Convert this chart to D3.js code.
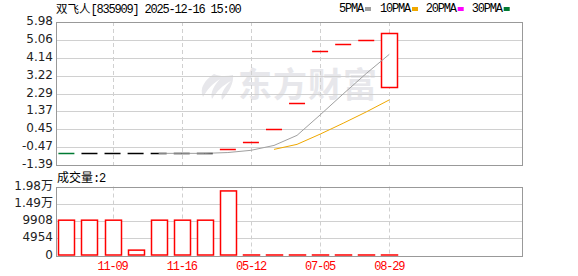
<!DOCTYPE html>
<html><head><meta charset="utf-8">
<script src="https://cdn.jsdelivr.net/npm/d3@7/dist/d3.min.js"></script>
<style>body{margin:0;background:#fff}svg{display:block}</style>
</head><body>
<script>
const dates = ["11-05","11-06","11-09","11-10","11-11","11-16","11-17","05-11","05-12","05-13","06-20","07-05","07-20","08-10","08-29"];
const opens  = [-0.79,-0.79,-0.79,-0.79,-0.79,-0.79,-0.79,-0.58,-0.22,0.47,1.81,4.47,4.83,5.04,2.62];
const closes = [-0.79,-0.79,-0.79,-0.79,-0.79,-0.79,-0.79,-0.58,-0.22,0.47,1.81,4.47,4.83,5.04,5.42];
const highs  = [-0.79,-0.79,-0.79,-0.79,-0.79,-0.79,-0.79,-0.58,-0.22,0.47,1.81,4.47,4.83,5.04,5.42];
const lows   = [-0.79,-0.79,-0.79,-0.79,-0.79,-0.79,-0.79,-0.58,-0.22,0.47,1.81,4.47,4.83,5.04,2.62];
const volumes = [10000,10000,10000,1400,10000,10000,10000,18400,5,3,4,3,3,3,2];
const priceTicks = [5.98,5.06,4.14,3.22,2.29,1.37,0.45,-0.47,-1.39];
const volTicks = [19816,14862,9908,4954,0];
const volTickLabels = ["1.98万","1.49万","9908","4954","0"];
const xLabelDates = ["11-09","11-16","05-12","07-05","08-29"];
const maNames = ["5PMA","10PMA","20PMA","30PMA"];
const maPeriods = [5,10,20,30];
const maColors = ["#a0a0a0","#f0a800","#ff00ff","#007a33"];

const W=578,H=276, L=56, R=522;
const svg=d3.select("body").append("svg").attr("width",W).attr("height",H);
const mono="'Liberation Mono','DejaVu Sans Mono',monospace";
const cjk="'Noto Sans CJK SC',sans-serif";

const x=d3.scalePoint().domain(dates).range([66.4,389.3]);
const y=d3.scaleLinear().domain([-1.39,5.98]).range([165,22]);
const yv=d3.scaleLinear().domain([0,19816]).range([255.5,186.5]);

// watermark
const wm=svg.append("g").attr("fill","#e7e7eb");
wm.append("path").attr("d","M214,74 C205,80 199,88 203,97 C207,90 212,84 220,79 C214,86 210,92 212,99 C217,91 223,85 231,81 C224,88 220,94 222,100 C229,92 234,83 233,75 C227,76 221,77 214,74 Z");
wm.append("text").attr("x",238).attr("y",97).attr("font-family",cjk).attr("font-weight","bold").attr("font-size",34).attr("letter-spacing",1).text("东方财富");

function panel(yTop,yBot,ticks,ys){
  const g=svg.append("g");
  ticks.forEach(t=>g.append("line").attr("x1",L).attr("x2",R).attr("y1",Math.round(ys(t))+0.5).attr("y2",Math.round(ys(t))+0.5).attr("stroke","#d0d0d0"));
  xLabelDates.forEach(d=>g.append("line").attr("x1",Math.round(x(d))+0.5).attr("x2",Math.round(x(d))+0.5).attr("y1",yTop).attr("y2",yBot).attr("stroke","#d0d0d0").attr("stroke-dasharray","4,3"));
  g.append("rect").attr("x",L+0.5).attr("y",Math.round(yTop)+0.5).attr("width",R-L).attr("height",Math.round(yBot)-Math.round(yTop)).attr("fill","none").attr("stroke","#999");
}
panel(22,165,priceTicks,y);
panel(186.5,255.5,volTicks,yv);

// y labels
const lab=svg.append("g").attr("font-family","'DejaVu Sans',sans-serif").attr("font-size",12).attr("fill","#222").attr("text-anchor","end");
priceTicks.forEach(t=>lab.append("text").attr("x",53).attr("y",y(t)+3).text(t.toFixed(2)));
volTicks.forEach((t,i)=>{
  const s=volTickLabels[i];
  const tx=lab.append("text").attr("x",53).attr("y",yv(t)+3);
  if(s.endsWith("万")){tx.append("tspan").text(s.slice(0,-1));tx.append("tspan").attr("font-family",cjk).attr("font-size",12).text("万");}
  else tx.text(s);
});

// title
const tt=svg.append("text").attr("x",56).attr("y",13).attr("font-size",12).attr("fill","#000");
tt.append("tspan").attr("font-family",cjk).attr("font-size",11.5).text("双飞人");
tt.append("tspan").attr("font-family",mono).attr("letter-spacing",-1.2).text("[835909] 2025-12-16 15:00");

// legend
const lg=svg.append("g");
const legX=[339,380,425.7,471.7];
maNames.forEach((n,i)=>{
  lg.append("text").attr("x",legX[i]).attr("y",12).attr("font-family",mono).attr("font-size",12).attr("letter-spacing",-1.2).attr("fill","#000").text(n);
  lg.append("rect").attr("x",legX[i]+n.length*6+2).attr("y",7).attr("width",6).attr("height",4).attr("fill",maColors[i]);
});

// candles
function col(i){
  const prev=i>0?closes[i-1]:opens[i]+0.01;
  if(closes[i]>prev||closes[i]>opens[i]) return "#ff0000";
  if(closes[i]<prev||closes[i]<opens[i]) return "#007a33";
  return "#000";
}
const cg=svg.append("g");
dates.forEach((d,i)=>{
  const c=col(i), cx=x(d);
  const top=y(Math.max(opens[i],closes[i])), bot=y(Math.min(opens[i],closes[i]));
  cg.append("line").attr("x1",cx).attr("x2",cx).attr("y1",y(highs[i])).attr("y2",y(lows[i])).attr("stroke",c);
  if(bot-top<1){
    cg.append("line").attr("x1",cx-8).attr("x2",cx+8).attr("y1",Math.round(top)+0.5).attr("y2",Math.round(top)+0.5).attr("stroke",c).attr("stroke-width",1.5);
  } else {
    cg.append("rect").attr("x",Math.round(cx-8)+0.5).attr("y",Math.round(top)+0.5).attr("width",16).attr("height",Math.round(bot)-Math.round(top)).attr("fill","#fff").attr("stroke",c).attr("stroke-width",1.5);
  }
});

// moving averages
maPeriods.forEach((p,k)=>{
  const pts=[];
  closes.forEach((c,i)=>{ if(i>=p-1){ pts.push([x(dates[i]), y(d3.mean(closes.slice(i-p+1,i+1)))]); } });
  if(pts.length>1) svg.append("path").attr("d",d3.line()(pts)).attr("fill","none").attr("stroke",maColors[k]).attr("stroke-width",1);
});

// volume title
const vt=svg.append("text").attr("x",57).attr("y",182).attr("font-size",12).attr("fill","#000");
vt.append("tspan").attr("font-family",cjk).text("成交量");
vt.append("tspan").attr("font-family",mono).attr("letter-spacing",-1.2).text(":2");

// volume bars
const vg=svg.append("g");
dates.forEach((d,i)=>{
  const cx=x(d), t=yv(volumes[i]), b=yv(0);
  vg.append("rect").attr("x",Math.round(cx-8)+0.5).attr("y",t-0.5).attr("width",16).attr("height",Math.max(0,b-t)).attr("fill","#fff").attr("stroke","#ff0000").attr("stroke-width",1.5);
});

// x labels
const xl=svg.append("g").attr("font-family",mono).attr("font-size",12).attr("letter-spacing",-1.2).attr("fill","#ff0000").attr("text-anchor","middle");
xLabelDates.forEach(d=>xl.append("text").attr("x",x(d)).attr("y",270).text(d));
</script>
</body></html>
